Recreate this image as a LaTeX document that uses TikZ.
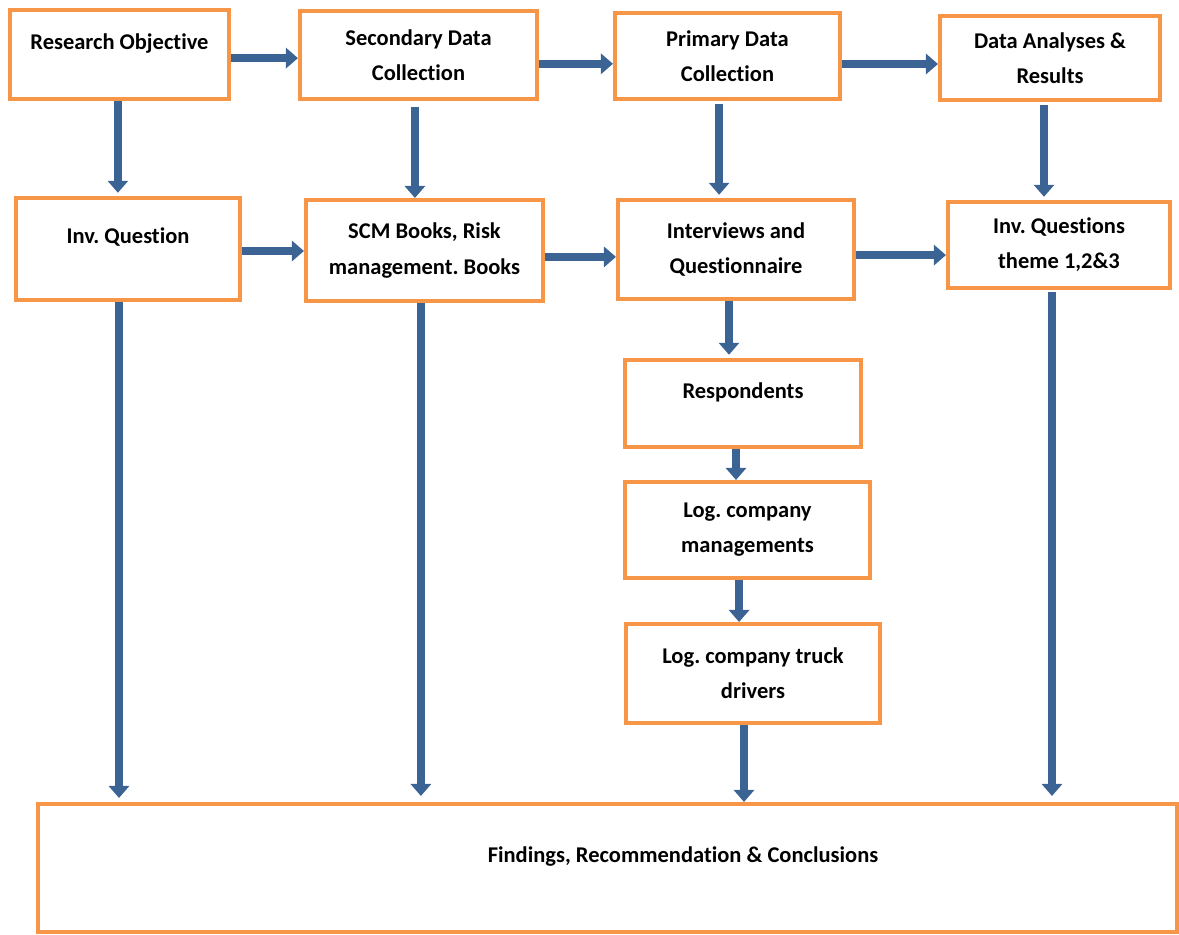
\documentclass[tikz,border=0pt]{standalone}
\usepackage{fontspec}
\setmainfont{Carlito}[Ligatures=NoCommon]
\usepackage{tikz}
\usetikzlibrary{arrows.meta, positioning, calc}
\definecolor{myorange}{RGB}{247,150,70}
\definecolor{myblue}{RGB}{59,100,148}
\frenchspacing
\tikzset{
  block/.style={rectangle, draw=myorange, fill=white, line width=0.1cm,
    align=center, inner sep=0pt,
    font=\bfseries\fontsize{16}{25}\selectfont},
  oneline/.style={text depth=0.65cm},
  arrow/.style={draw=myblue, line width=0.2cm,
    -{Triangle[width=0.5cm, length=0.3cm]}}
}

\begin{document}
\begin{tikzpicture}[x=0.025cm, y=-0.025cm]
  \useasboundingbox (0,0) rectangle (1179,935);

  % First row
  \node[block, oneline, minimum width=5.475cm, minimum height=2.225cm] (ro) at (119.5,54.5) {Research Objective};
  \node[block, minimum width=5.925cm, minimum height=2.175cm] (sdc) at (418.5,55) {Secondary Data\\Collection};
  \node[block, minimum width=5.625cm, minimum height=2.125cm] (pdc) at (727.5,56) {Primary Data\\Collection};
  \node[block, minimum width=5.5cm, minimum height=2.1cm] (dar) at (1050,58) {Data Analyses \&\\Results};

  % Second row
  \node[block, oneline, minimum width=5.6cm, minimum height=2.55cm] (iq) at (128,249) {Inv. Question};
  \node[block, minimum width=5.925cm, minimum height=2.525cm] (scm) at (424.5,250.5) {SCM Books, Risk\\management. Books};
  \node[block, minimum width=5.9cm, minimum height=2.475cm] (iaq) at (736,249.5) {Interviews and\\Questionnaire};
  \node[block, minimum width=5.55cm, minimum height=2.15cm] (iqt) at (1059,245) {Inv. Questions\\theme 1,2\&3};

  % Respondents column
  \node[block, oneline, minimum width=5.9cm, minimum height=2.175cm] (resp) at (743,403.5) {Respondents};
  \node[block, minimum width=6.125cm, minimum height=2.4cm] (lcm) at (747.5,530) {Log. company\\managements};
  \node[block, minimum width=6.35cm, minimum height=2.475cm] (lctd) at (753,673.5) {Log. company truck\\drivers};

  % Findings
  \node[block, minimum width=28.475cm, minimum height=3.2cm] (fin) at (607.5,868) {};
  \node[font=\bfseries\fontsize{16}{25}\selectfont] (fintext) at (683,857) {Findings, Recommendation \& Conclusions};

  % Horizontal arrows
  \draw[arrow] ([yshift=-0.09cm]ro.east) -- ([yshift=-0.09cm]ro.east -| sdc.west);
  \draw[arrow] ([yshift=-0.22cm]sdc.east) -- ([yshift=-0.22cm]sdc.east -| pdc.west);
  \draw[arrow] ([yshift=-0.2cm]pdc.east) -- ([yshift=-0.2cm]pdc.east -| dar.west);
  \draw[arrow] ([yshift=-0.05cm]iq.east) -- ([yshift=-0.05cm]iq.east -| scm.west);
  \draw[arrow] ([yshift=-0.16cm]scm.east) -- ([yshift=-0.16cm]scm.east -| iaq.west);
  \draw[arrow] ([yshift=-0.14cm]iaq.east) -- ([yshift=-0.14cm]iaq.east -| iqt.west);

  % Vertical arrows
  \draw[arrow, shorten >=0.08cm] ([xshift=-0.04cm]ro.south) -- ([xshift=-0.04cm]ro.south |- iq.north);
  \draw[arrow, shorten <=0.15cm] ([xshift=-0.09cm]sdc.south) -- ([xshift=-0.09cm]sdc.south |- scm.north);
  \draw[arrow, shorten <=0.08cm, shorten >=0.08cm] ([xshift=-0.21cm]pdc.south) -- ([xshift=-0.21cm]pdc.south |- iaq.north);
  \draw[arrow, shorten <=0.08cm, shorten >=0.08cm] ([xshift=-0.15cm]dar.south) -- ([xshift=-0.15cm]dar.south |- iqt.north);
  \draw[arrow, shorten >=0.1cm] ([xshift=-0.225cm]iq.south) -- ([xshift=-0.225cm]iq.south |- fin.north);
  \draw[arrow, shorten >=0.15cm] ([xshift=-0.09cm]scm.south) -- ([xshift=-0.09cm]scm.south |- fin.north);
  \draw[arrow, shorten >=0.08cm] ([xshift=-0.175cm]iaq.south) -- ([xshift=-0.175cm]iaq.south |- resp.north);
  \draw[arrow] ([xshift=-0.175cm]resp.south) -- ([xshift=-0.175cm]resp.south |- lcm.north);
  \draw[arrow] ([xshift=-0.21cm]lcm.south) -- ([xshift=-0.21cm]lcm.south |- lctd.north);
  \draw[arrow] ([xshift=-0.225cm]lctd.south) -- ([xshift=-0.225cm]lctd.south |- fin.north);
  \draw[arrow, shorten <=0.05cm, shorten >=0.15cm] ([xshift=-0.175cm]iqt.south) -- ([xshift=-0.175cm]iqt.south |- fin.north);

\end{tikzpicture}
\end{document}
